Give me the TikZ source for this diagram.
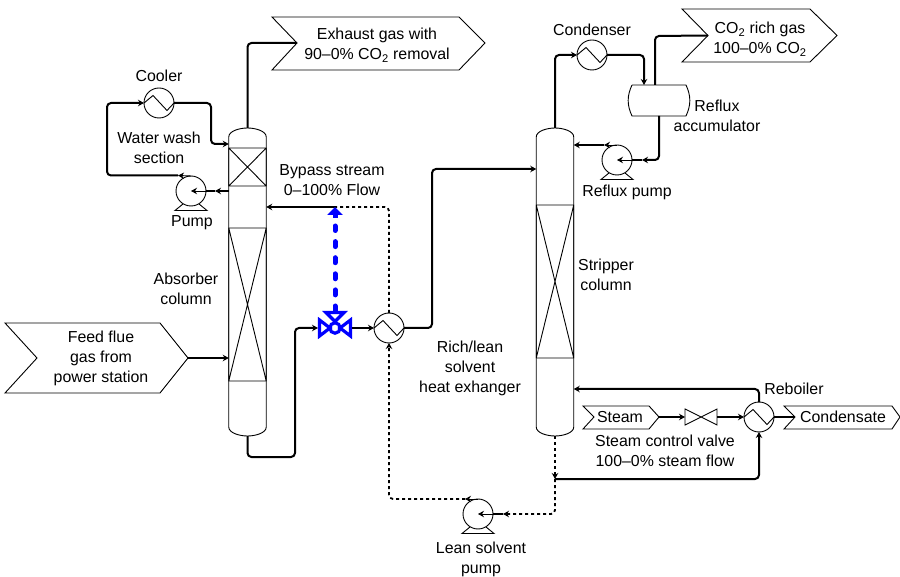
\documentclass[tikz,border=0pt]{standalone}
\usepackage{fontspec}
\setmainfont{Liberation Sans}
\usetikzlibrary{arrows.meta, positioning, calc}

\tikzset{
    shape line/.style={line width=0.9pt},
    stream/.style={line width=2pt, rounded corners=4pt},
    lean stream/.style={line width=1.8pt, rounded corners=4pt, dash pattern=on 3pt off 3pt},
    to tip/.style={-{Stealth[length=6pt,width=6.5pt]}},
    equip/.style={circle, draw, shape line, fill=white, minimum size=30pt, inner sep=0pt, outer sep=0pt},
    hx/.style={equip, path picture={
        \draw[shape line, shift={(path picture bounding box.center)}] (-15,0) -- (-6,-7.5) -- (8,7.5) -- (15,0);}},
    column/.style={minimum width=37.5pt, minimum height=308pt, inner sep=0pt, outer sep=0pt},
    label/.style={align=center, inner sep=0pt, font=\fontsize{15.9}{20}\selectfont},
}

% feet under a pump casing
\newcommand{\pumpbase}[1]{
    \draw[shape line, shift={(#1.center)}] (-8,13) -- (-16,19.5) -- (16,19.5) -- (8,13);
}
% packed section of a column
\newcommand{\packing}[3]{
    \draw[shape line] (#1.west |- 0,#2) rectangle (#1.east |- 0,#3)
        (#1.west |- 0,#2) -- (#1.east |- 0,#3) (#1.east |- 0,#2) -- (#1.west |- 0,#3);
}
% column outline with dished heads
\newcommand{\columnshell}[1]{
    \draw[shape line] (#1.west |- 0,137) .. controls (#1.west |- 0,131) and ($(#1.north)+(-8,0)$) .. (#1.north)
        .. controls ($(#1.north)+(8,0)$) and (#1.east |- 0,131) .. (#1.east |- 0,137)
        -- (#1.east |- 0,427) .. controls (#1.east |- 0,433) and ($(#1.south)+(8,0)$) .. (#1.south)
        .. controls ($(#1.south)+(-8,0)$) and (#1.west |- 0,433) .. (#1.west |- 0,427) -- cycle;
}

\begin{document}
\begin{tikzpicture}[x=1pt, y=-1pt, node distance=5pt, label]
    \useasboundingbox (0,0) rectangle (900,577);

    % columns
    \node[column] (absorber) at (247.5,282) {};
    \node[column] (stripper) at (555,282) {};
    \columnshell{absorber}
    \columnshell{stripper}
    \packing{absorber}{148}{186}
    \packing{absorber}{228}{381}
    \packing{stripper}{205}{358}

    % equipment
    \node[hx] (cooler) at (159,103) {};
    \node[hx] (leanrich) at (389,328) {};
    \node[hx] (condenser) at (592,55) {};
    \node[hx] (reboiler) at (759,417) {};
    \node[equip] (washpump) at (191,191) {};
    \node[equip] (refluxpump) at (617,160) {};
    \node[equip] (leanpump) at (478,514) {};
    \pumpbase{washpump}
    \pumpbase{refluxpump}
    \pumpbase{leanpump}

    % reflux drum
    \node[minimum width=54pt, minimum height=31pt, inner sep=0pt, outer sep=0pt] (drum) at (659,100.5) {};
    \draw[shape line] (drum.north west) -- (drum.north east) to[bend left=25] (drum.south east)
        -- (drum.south west) to[bend left=25] (drum.north west);

    % steam valve
    \node[minimum width=32pt, minimum height=16pt, inner sep=0pt, outer sep=0pt] (steamvalve) at (701,417) {};
    \draw[shape line] (steamvalve.north west) -- (steamvalve.south east) -- (steamvalve.north east)
        -- (steamvalve.south west) -- cycle;

    % bypass valve
    \node[minimum size=34pt, inner sep=0pt, outer sep=0pt] (bypassvalve) at (335,328) {};
    \draw[blue, line width=3.2pt, shift={(bypassvalve.center)}]
        (-15.5,-8) -- (-5,0) -- (-15.5,8) -- cycle
        (15.5,-8) -- (5,0) -- (15.5,8) -- cycle
        (-9,-15.5) -- (9,-15.5) -- (0,-6.5) -- cycle
        (0,0) circle (5.2);

    % stream tags
    \draw[shape line] (272,17) -- (459,17) -- (485,43) -- (459,70) -- (272,70) -- (297,43) -- cycle;
    \draw[shape line] (682,9) -- (810,9) -- (837,35.5) -- (810,62) -- (682,62) -- (708,35.5) -- cycle;
    \draw[shape line] (5,323) -- (160,323) -- (188,358) -- (160,393) -- (5,393) -- (37,358) -- cycle;
    \draw[shape line] (583,406) -- (649,406) -- (659,417) -- (649,429) -- (583,429) -- (594,417) -- cycle;
    \draw[shape line] (784,406) -- (892,406) -- (900,417) -- (892,429) -- (784,429) -- (795,417) -- cycle;
    \coordinate (exhausttag) at (297,43);
    \coordinate (richtag) at (708,35.5);
    \coordinate (feedtag) at (188,358);
    \coordinate (steamtag) at (659,417);
    \coordinate (condensatetag) at (795,417);

    % junctions
    \coordinate (bypassjoin) at (335,207);
    \coordinate (leanjoin) at (555,479);
    \coordinate (washmid) at (215,191);
    \coordinate (washtop) at (178,175.5);
    \coordinate (refluxmid) at (642,160);
    \coordinate (refluxtop) at (604,145);
    \coordinate (leanmid) at (503,514);
    \coordinate (leantop) at (465,499);

    % absorber streams
    \draw[stream, to tip] (feedtag) -- (absorber.west |- 0,358);
    \draw[stream] (absorber.north) -- (247.5,43) -- (exhausttag);
    \draw[stream, to tip] (cooler.east) -- (211,103) -- (211,144) -- (absorber.west |- 0,144);
    \draw[stream, to tip] (absorber.west |- 0,191) -- (washmid);
    \draw[stream] (washmid) -- (washpump.east);
    \draw[shape line, to tip] (washpump.east) -- (washpump.center);
    \draw[shape line, to tip] (washpump.north) -- (washtop);
    \draw[stream, to tip] (washtop) -- (107,175.5) -- (107,103) -- (cooler.west);

    % rich solvent
    \draw[stream, to tip] (absorber.south) -- (247.5,457) -- (295,457) -- (295,328) -- (bypassvalve.west);
    \draw[stream, to tip] (bypassvalve.east) -- (leanrich.west);
    \draw[stream, to tip] (leanrich.east) -- (432,328) -- (432,169) -- (stripper.west |- 0,169);

    % bypass
    \draw[stream, to tip] (bypassjoin) -- (absorber.east |- bypassjoin);
    \draw[lean stream] (leanrich.north) -- (389,207) -- (bypassjoin);
    \draw[blue, line width=5pt, line cap=round, dash pattern=on 5pt off 11.1pt] (bypassvalve.north) -- (335,226);
    \draw[blue, line width=5pt, -{Triangle[length=8pt,width=15pt]}] (335,218) -- (bypassjoin);

    % overhead of stripper
    \draw[stream, to tip] (stripper.north) -- (555,55) -- (condenser.west);
    \draw[stream, to tip] (condenser.east) -- (644,55) -- (644,85);
    \draw[stream] (655,85) -- (655,36) -- (richtag);
    \draw[stream, to tip] (659,116) -- (659,160) -- (refluxmid);
    \draw[stream] (refluxmid) -- (refluxpump.east);
    \draw[shape line, to tip] (refluxpump.east) -- (refluxpump.center);
    \draw[shape line, to tip] (refluxpump.north) -- (refluxtop);
    \draw[stream, to tip] (refluxtop) -- (stripper.east |- refluxtop);

    % reboiler loop
    \draw[stream, to tip] (reboiler.north) -- (759,389) -- (stripper.east |- 0,389);
    \draw[stream, to tip] (steamtag) -- (steamvalve.west);
    \draw[stream, to tip] (steamvalve.east) -- (reboiler.west);
    \draw[stream] (reboiler.east) -- (condensatetag);
    \draw[stream, to tip] (leanjoin) -- (759,479) -- (reboiler.south);

    % lean solvent
    \draw[lean stream, to tip] (stripper.south) -- (leanjoin);
    \draw[lean stream, to tip] (leanjoin) -- (555,514) -- (leanmid);
    \draw[stream] (leanmid) -- (leanpump.east);
    \draw[shape line, to tip] (leanpump.east) -- (leanpump.center);
    \draw[shape line, to tip] (leanpump.north) -- (leantop);
    \draw[lean stream, to tip] (leantop) -- (389,499) -- (leanrich.south);

    % labels
    \node[above=6pt of cooler] (coolertext) {Cooler};
    \node[above=4pt of condenser] (condensertext) {Condenser};
    \node (washtext) at (159,148) {Water wash\\section};
    \node (pumptext) at (192,223) {Pump};
    \node (exhausttext) at (377,45) {Exhaust gas with\\90--0\% CO\textsubscript{2} removal};
    \node (bypasstext) at (332,180.5) {Bypass stream\\0--100\% Flow};
    \node (absorbertext) at (186,288.5) {Absorber\\column};
    \node (feedtext) at (101,358) {Feed flue\\gas from\\power station};
    \node (exchangertext) at (470,368) {Rich/lean\\solvent\\heat exhanger};
    \node (strippertext) at (606,275) {Stripper\\column};
    \node (richtext) at (760,39) {CO\textsubscript{2} rich gas\\100--0\% CO\textsubscript{2}};
    \node (drumtext) at (717,116) {Reflux\\accumulator};
    \node (refluxtext) at (627,192) {Reflux pump};
    \node (reboilertext) at (794,389) {Reboiler};
    \node (steamtext) at (620,417) {Steam};
    \node (condensatetext) at (843,417) {Condensate};
    \node (valvetext) at (665,451) {Steam control valve\\100--0\% steam flow};
    \node (leantext) at (481,559) {Lean solvent\\pump};
\end{tikzpicture}
\end{document}
